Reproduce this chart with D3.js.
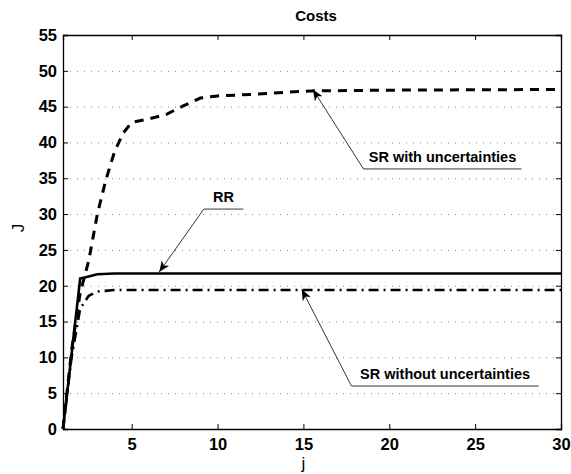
<!DOCTYPE html>
<html>
<head>
<meta charset="utf-8">
<script src="https://cdn.jsdelivr.net/npm/d3@7"></script>
<style>
  body { margin: 0; background: #fff; }
  svg { display: block; font-family: "Liberation Sans", Arial, sans-serif; }
</style>
</head>
<body>
<div id="chart"></div>
<script>
// series: [j, J]
const srWith = [[1, 0], [1.5, 11], [2, 19], [2.5, 23.5], [3, 30], [3.5, 34.8], [4, 38.7], [4.5, 41.3],
  [5, 42.8], [6, 43.3], [7, 43.9], [8, 45.1], [9, 46.2], [10, 46.5], [12, 46.7], [14, 47.0],
  [15.5, 47.2], [20, 47.3], [30, 47.4]];
const rr = [[1, 0], [2, 21], [2.5, 21.3], [3, 21.6], [4, 21.7], [30, 21.7]];
const srWithout = [[1, 0], [1.5, 10], [2, 16.8], [2.5, 18.6], [3, 19.2], [4, 19.4], [30, 19.4]];

const xTicks = [5, 10, 15, 20, 25, 30];
const yTicks = [0, 5, 10, 15, 20, 25, 30, 35, 40, 45, 50, 55];

// annotations: text, arrow tip [j, J], elbow [j, J], end of underline [j, J]
const notes = [
  { text: "SR with uncertainties", tip: [15.55, 47.4], elbow: [18.5, 36.3], end: [27.7, 36.3] },
  { text: "RR", tip: [6.6, 21.9], elbow: [9.2, 30.7], end: [11.5, 30.7] },
  { text: "SR without uncertainties", tip: [14.9, 19.5], elbow: [17.8, 6.0], end: [28.7, 6.0] }
];

const W = 571, H = 474;
const margin = { top: 35, right: 10, bottom: 45, left: 63 };
const iw = W - margin.left - margin.right;
const ih = H - margin.top - margin.bottom;

const svg = d3.select("#chart").append("svg").attr("width", W).attr("height", H);
const g = svg.append("g").attr("transform", `translate(${margin.left},${margin.top})`);

const x = d3.scaleLinear().domain([1, 30]).range([0, iw]);
const y = d3.scaleLinear().domain([0, 55]).range([ih, 0]);

// dotted horizontal grid
g.append("g")
  .attr("class", "grid")
  .call(d3.axisLeft(y).tickValues(yTicks.filter(d => d > 0 && d < 55)).tickSize(-iw).tickFormat(""))
  .call(s => s.select(".domain").remove())
  .call(s => s.selectAll("line").attr("stroke", "#888").attr("stroke-dasharray", "1,6"));

// axes with inward ticks
const tickLen = 5;
g.append("g").attr("transform", `translate(0,${ih})`)
  .call(d3.axisBottom(x).tickValues(xTicks).tickSize(-tickLen).tickPadding(9))
  .call(s => s.selectAll("text").attr("font-size", 16.5).attr("font-weight", "bold").attr("fill", "#000"));
g.append("g")
  .call(d3.axisTop(x).tickValues(xTicks).tickSize(-tickLen).tickFormat(""));
g.append("g")
  .call(d3.axisLeft(y).tickValues(yTicks).tickSize(-tickLen).tickPadding(6))
  .call(s => s.selectAll("text").attr("font-size", 16.5).attr("font-weight", "bold").attr("fill", "#000"));
g.append("g").attr("transform", `translate(${iw},0)`)
  .call(d3.axisRight(y).tickValues(yTicks).tickSize(-tickLen).tickFormat(""));
g.selectAll(".domain").attr("stroke", "#000").attr("stroke-width", 1.3);

// series lines
const line = d3.line().x(d => x(d[0])).y(d => y(d[1]));
g.append("path").datum(srWithout).attr("d", line)
  .attr("fill", "none").attr("stroke", "#000").attr("stroke-width", 2.6)
  .attr("stroke-dasharray", "10,5,2,5");
g.append("path").datum(rr).attr("d", line)
  .attr("fill", "none").attr("stroke", "#000").attr("stroke-width", 2.6);
g.append("path").datum(srWith).attr("d", line)
  .attr("fill", "none").attr("stroke", "#000").attr("stroke-width", 3)
  .attr("stroke-dasharray", "9,7");

// annotation arrows
notes.forEach(n => {
  const tx = x(n.tip[0]), ty = y(n.tip[1]);
  const ex = x(n.elbow[0]), ey = y(n.elbow[1]);
  const endx = x(n.end[0]);
  g.append("line").attr("x1", ex).attr("y1", ey).attr("x2", endx).attr("y2", ey)
    .attr("stroke", "#000").attr("stroke-width", 0.8);
  g.append("line").attr("x1", ex).attr("y1", ey).attr("x2", tx).attr("y2", ty)
    .attr("stroke", "#000").attr("stroke-width", 0.8);
  const ang = Math.atan2(ty - ey, tx - ex) * 180 / Math.PI;
  g.append("path")
    .attr("d", "M0,0 L-11,-4.5 L-8,0 L-11,4.5 Z")
    .attr("transform", `translate(${tx},${ty}) rotate(${ang})`)
    .attr("fill", "#000");
  g.append("text")
    .attr("x", (ex + endx) / 2).attr("y", ey - 7)
    .attr("text-anchor", "middle")
    .attr("font-size", 14.5).attr("font-weight", "bold")
    .text(n.text);
});

// title and axis labels
svg.append("text").attr("x", margin.left + iw / 2 + 4).attr("y", 21)
  .attr("text-anchor", "middle").attr("font-size", 15).attr("font-weight", "bold").text("Costs");
svg.append("text").attr("x", margin.left + x(15)).attr("y", 469)
  .attr("text-anchor", "middle").attr("font-size", 17).text("j");
svg.append("text")
  .attr("transform", `translate(24,${margin.top + ih / 2 - 4}) rotate(-90)`)
  .attr("text-anchor", "middle").attr("font-size", 17).text("J");
</script>
</body>
</html>
